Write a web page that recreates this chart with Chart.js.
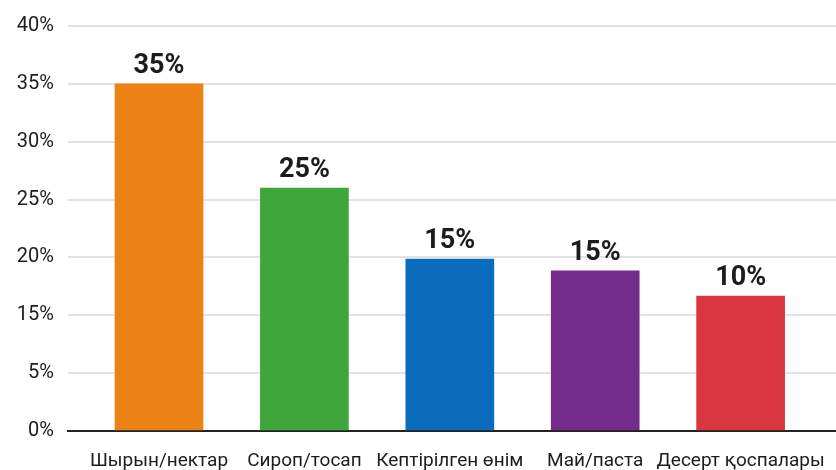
<!DOCTYPE html>
<html>
<head>
<meta charset="utf-8">
<script src="https://cdn.jsdelivr.net/npm/chart.js@4.4.0/dist/chart.umd.min.js"></script>
<style>
    html, body { margin: 0; padding: 0; background: #ffffff; }
    #wrap { width: 836px; height: 470px; }
</style>
</head>
<body>
<div id="wrap"><canvas id="fruitChart" width="836" height="470"></canvas></div>
<script>
const categories = [
    'Шырын/нектар',
    'Сироп/тосап',
    'Кептірілген өнім',
    'Май/паста',
    'Десерт қоспалары'
];
// printed value above each bar
const valueLabels = ['35%', '25%', '15%', '15%', '10%'];
// bar height as read on the axis (one unit = one gridline step)
const barHeights = [6.0, 4.2, 2.97, 2.77, 2.33];
// the axis is evenly spaced but its labels are not
const yTickLabels = ['0%', '5%', '15%', '20%', '25%', '30%', '35%', '40%'];
const barColors = ['#ec8116', '#3ea63a', '#0a6cbd', '#742d8b', '#d9363f'];

const fontFamily = 'Roboto, "Noto Sans", sans-serif';

//value labels over bars
const valueLabelPlugin = {
    id: 'valueLabels',
    afterDatasetsDraw(chart) {
        const ctx = chart.ctx;
        const meta = chart.getDatasetMeta(0);
        ctx.save();
        ctx.font = 'bold 27px ' + fontFamily;
        ctx.fillStyle = '#1c1c1c';
        ctx.textAlign = 'center';
        ctx.textBaseline = 'alphabetic';
        meta.data.forEach(function (bar, i) {
            ctx.fillText(valueLabels[i], bar.x, bar.y - 11);
        });
        ctx.restore();
    }
};

const data = {
    datasets: [{
        data: barHeights.map(function (v, i) { return { x: i, y: v }; }),
        backgroundColor: barColors,
        borderWidth: 0,
        barThickness: 88
    }]
};

const config = {
    type: 'bar',
    data: data,
    options: {
        responsive: false,
        animation: false,
        layout: {
            padding: { top: 21, right: 0, bottom: 0, left: 0 }
        },
        plugins: {
            legend: { display: false },
            tooltip: { enabled: false }
        },
        scales: {
            x: {
                type: 'linear',
                offset: false,
                min: -0.626,
                max: 4.656,
                grid: { display: false, drawTicks: false, offset: false },
                border: { display: true, color: '#222222', width: 2 },
                afterFit: function (scale) {
                    scale.height = 39;
                    scale.paddingLeft = 0;
                    scale.paddingRight = 0;
                },
                ticks: {
                    stepSize: 1,
                    includeBounds: false,
                    autoSkip: false,
                    maxRotation: 0,
                    padding: 19,
                    color: '#1c1c1c',
                    font: { family: fontFamily, size: 19 },
                    callback: function (value) {
                        return categories[value] !== undefined ? categories[value] : '';
                    }
                }
            },
            y: {
                min: 0,
                max: 7,
                grid: {
                    drawTicks: false,
                    lineWidth: 2,
                    color: function (c) {
                        return c.tick && c.tick.value === 0 ? 'rgba(0,0,0,0)' : '#e3e3e3';
                    }
                },
                border: { display: false },
                afterFit: function (scale) { scale.width = 68; },
                ticks: {
                    stepSize: 1,
                    padding: 14,
                    color: '#1c1c1c',
                    font: { family: fontFamily, size: 20 },
                    callback: function (value) {
                        return yTickLabels[value];
                    }
                }
            }
        }
    },
    plugins: [valueLabelPlugin]
};

var fruitChart = new Chart(
    document.getElementById('fruitChart'),
    config
);
</script>
</body>
</html>
